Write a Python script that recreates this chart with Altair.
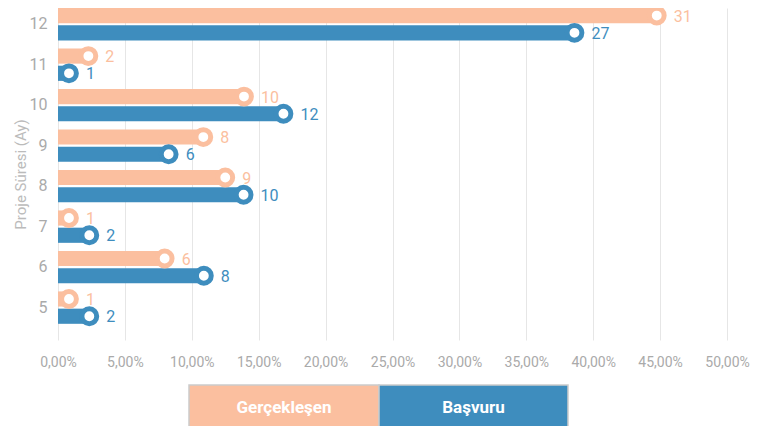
import altair as alt
import pandas as pd

months = ["12", "11", "10", "9", "8", "7", "6", "5"]
ger_pct = [44.75, 2.27, 13.9, 10.86, 12.5, 0.82, 7.97, 0.82]
bas_pct = [38.6, 0.82, 16.85, 8.27, 13.87, 2.34, 10.9, 2.34]
ger_n = [31, 2, 10, 8, 9, 1, 6, 1]
bas_n = [27, 1, 12, 6, 10, 2, 8, 2]
series = ["Gerçekleşen", "Başvuru"]
ticks = [0, 5, 10, 15, 20, 25, 30, 35, 40, 45, 50]

rows = []
for i, m in enumerate(months):
    rows.append({"ay": m, "seri": series[0], "pct": ger_pct[i], "n": ger_n[i]})
    rows.append({"ay": m, "seri": series[1], "pct": bas_pct[i], "n": bas_n[i]})
df = pd.DataFrame(rows)

FONT = "Roboto"
C_G = "#FBBF9F"
C_B = "#3E8DBE"
color = alt.Color("seri:N", scale=alt.Scale(domain=series, range=[C_G, C_B]), legend=None)

x = alt.X("pct:Q", scale=alt.Scale(domain=[0, 50], nice=False),
          axis=alt.Axis(values=ticks, title=None, domain=False, ticks=False,
                        labelExpr="replace(format(datum.value, '.2f'), '.', ',') + '%'",
                        labelFontSize=14, labelColor="#aaaaaa", labelPadding=15,
                        labelOverlap=False, labelFlush=False,
                        gridColor="#e6e6e6", labelFont=FONT))
y = alt.Y("ay:O", sort=months,
          scale=alt.Scale(paddingInner=0.2, paddingOuter=0.2, align=0),
          axis=alt.Axis(title="Proje Süresi (Ay)", domain=False, ticks=False, grid=False,
                        labelPadding=11, labelFontSize=16, labelColor="#aaaaaa",
                        labelFont=FONT, titleFont=FONT, titleColor="#bbbbbb",
                        titleFontSize=15, titleFontWeight="normal",
                        titleX=-38, titleY=166, titleAngle=270, titleBaseline="middle",
                        titleAlign="center"))
yo = alt.YOffset("seri:N", sort=series, scale=alt.Scale(paddingInner=0.12))

base = alt.Chart(df)
bars = base.mark_bar().encode(x=x, y=y, yOffset=yo, color=color)
pts = base.mark_point(filled=True, fill="white", size=220, strokeWidth=5, opacity=1).encode(
    x="pct:Q", y=y, yOffset=yo,
    stroke=alt.Stroke("seri:N", scale=alt.Scale(domain=series, range=[C_G, C_B]), legend=None))
labels = base.mark_text(align="left", baseline="middle", dx=17, dy=1, fontSize=16, font=FONT).encode(
    x="pct:Q", y=y, yOffset=yo, text="n:Q", color=color)

leg_df = pd.DataFrame({"seri": series})
leg_layers = []
boxes = [(131, 321), (321, 510)]
for s, (a, b), c in zip(series, boxes, [C_G, C_B]):
    d = alt.Chart(leg_df).transform_filter(alt.datum.seri == s)
    leg_layers.append(d.mark_rect(fill=c, stroke="#cccccc", strokeWidth=1.5).encode(
        x=alt.value(a), x2=alt.value(b), y=alt.value(377), y2=alt.value(440)))
    leg_layers.append(d.mark_text(fontSize=17, fontWeight="bold", color="white", font=FONT,
                                  baseline="middle").encode(
        x=alt.value((a + b) / 2), y=alt.value(400), text="seri:N"))

chart = alt.layer(bars, pts, labels, *leg_layers).properties(
    width=669, height=332,
    autosize=alt.AutoSizeParams(type="none"),
    padding={"left": 50, "top": 0, "right": 33, "bottom": 90},
).configure_view(stroke=None)

chart.save("out.html", embed_options={"renderer": "svg", "actions": False})
